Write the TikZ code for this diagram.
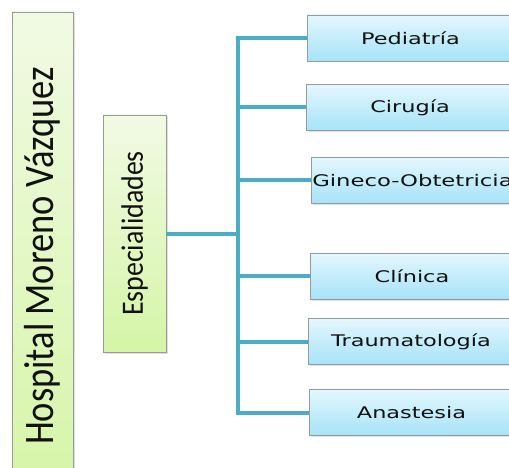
\documentclass[tikz,border=0pt]{standalone}
\usepackage{fontspec}
\setmainfont{DejaVu Sans}
\newfontfamily\calfont{Carlito}
\usetikzlibrary{shadows}
\definecolor{conn}{HTML}{4BACC6}
\definecolor{boxborder}{HTML}{9A9A9A}
\definecolor{gtop}{HTML}{F1FAE4}
\definecolor{gbot}{HTML}{D5F5A6}
\definecolor{btop}{HTML}{E4F7FE}
\definecolor{bbot}{HTML}{A6E3F8}
\definecolor{txt}{HTML}{111111}
\begin{document}
\begin{tikzpicture}[x=1pt,y=-1pt,
  basebox/.style={draw=boxborder, line width=0.8pt, inner sep=0pt, text=txt,
    drop shadow={shadow xshift=1.5pt,shadow yshift=-1.5pt,opacity=0.25}},
  greenbox/.style={basebox, top color=gtop, bottom color=gbot},
  bluebox/.style={basebox, top color=btop, bottom color=bbot, minimum height=46pt,
    font=\fontsize{16}{19}\selectfont},
  link/.style={draw=conn, line width=4pt}]
\useasboundingbox (0,0) rectangle (509,468);
\clip (0,0) rectangle (509,468);
\node[greenbox, minimum width=61pt, minimum height=488pt] (hosp) at (42.5,256)
  {\rotatebox{90}{\scalebox{0.87}[1]{\calfont\fontsize{42}{50}\selectfont Hospital Moreno Vázquez}}};
\node[greenbox, minimum width=63pt, minimum height=237pt] (esp) at (134.5,233.5)
  {\rotatebox{90}{\scalebox{0.9}[1]{\calfont\fontsize{31}{37}\selectfont Especialidades}}};
\node[bluebox, minimum width=207pt] (ped) at (410.5,38) {\scalebox{1.4}[1]{Pediatría}};
\node[bluebox, minimum width=208pt] (cir) at (410,107.5) {\scalebox{1.4}[1]{Cirugía}};
\node[bluebox, minimum width=203pt] (gin) at (412.5,180.5) {\scalebox{1.42}[1]{Gineco-Obtetricia}};
\node[bluebox, minimum width=204pt] (cli) at (412,276) {\scalebox{1.4}[1]{Clínica}};
\node[bluebox, minimum width=206pt] (tra) at (411,341.5) {\scalebox{1.4}[1]{Traumatología}};
\node[bluebox, minimum width=205pt] (ana) at (411.5,412.5) {\scalebox{1.4}[1]{Anastesia}};
\coordinate (tr) at (238,0);
\draw[link] (esp.east) -- (esp.east -| tr);
\draw[link, line cap=rect] (ped.west -| tr) -- (ana.west -| tr);
\foreach \n in {ped,cir,gin,cli,tra,ana}
  \draw[link] (\n.west -| tr) -- (\n.west);
\end{tikzpicture}
\end{document}
